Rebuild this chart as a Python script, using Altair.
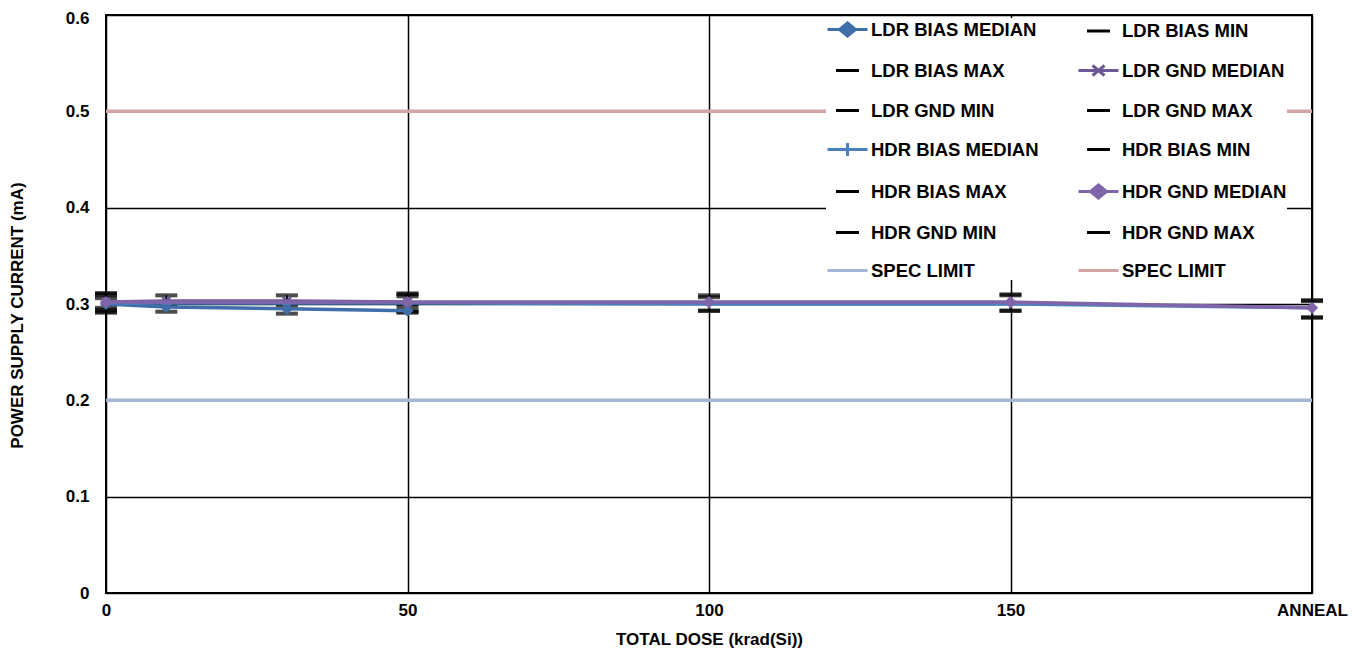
import altair as alt
import pandas as pd

# ---------------- data ----------------
X_LDR = [0, 10, 30, 50]
X_HDR = [0, 50, 100, 150, 200]

LDR_BIAS_MEDIAN = [0.300, 0.297, 0.295, 0.293]
LDR_BIAS_MIN = [0.291, 0.292, 0.290, 0.291]
LDR_BIAS_MAX = [0.306, 0.302, 0.298, 0.297]
LDR_GND_MEDIAN = [0.302, 0.303, 0.303, 0.302]
LDR_GND_MIN = [0.296, 0.300, 0.302, 0.300]
LDR_GND_MAX = [0.311, 0.309, 0.309, 0.311]

HDR_BIAS_MEDIAN = [0.301, 0.301, 0.300, 0.300, 0.296]
HDR_BIAS_MIN = [0.292, 0.292, 0.293, 0.293, 0.286]
HDR_BIAS_MAX = [0.309, 0.308, 0.307, 0.309, 0.303]
HDR_GND_MEDIAN = [0.302, 0.302, 0.302, 0.302, 0.296]
HDR_GND_MIN = [0.294, 0.293, 0.293, 0.293, 0.286]
HDR_GND_MAX = [0.311, 0.310, 0.309, 0.310, 0.304]

SPEC_LOW = 0.2
SPEC_HIGH = 0.5

X_TICKS = [0, 50, 100, 150, 200]
X_TICK_LABELS = ["0", "50", "100", "150", "ANNEAL"]
Y_TICKS = [0, 0.1, 0.2, 0.3, 0.4, 0.5, 0.6]

# legend entries, listed column by column (left column first)
LEGEND_NAMES = [
    "LDR BIAS MEDIAN", "LDR BIAS MAX", "LDR GND MIN", "HDR BIAS MEDIAN",
    "HDR BIAS MAX", "HDR GND MIN", "SPEC LIMIT",
    "LDR BIAS MIN", "LDR GND MEDIAN", "LDR GND MAX", "HDR BIAS MIN",
    "HDR GND MEDIAN", "HDR GND MAX", "SPEC LIMIT ",
]

# ---------------- styles ----------------
FONT = "Liberation Sans"
C_LDR_BIAS = "#3F6EA8"
C_LDR_GND = "#6C5898"
C_HDR_BIAS = "#4A7FC0"
C_HDR_GND = "#8064A8"
C_SPEC_LOW = "#A4B6D7"
C_SPEC_HIGH = "#D5A4A4"

LINE = "M-2,0L2,0"
DASH = "M-1.15,0L1.15,0"
LEG_DIAMOND = "M-2,0L2,0M0,-0.65L0.8,0L0,0.65L-0.8,0Z"
LEG_X = "M-2,0L2,0M-0.6,-0.5L0.6,0.5M-0.6,0.5L0.6,-0.5"
LEG_PLUS = "M-2,0L2,0M0,-0.65L0,0.65"

STYLE = {
    "LDR BIAS MEDIAN": (C_LDR_BIAS, LEG_DIAMOND),
    "LDR BIAS MIN": ("black", DASH),
    "LDR BIAS MAX": ("black", DASH),
    "LDR GND MEDIAN": (C_LDR_GND, LEG_X),
    "LDR GND MIN": ("black", DASH),
    "LDR GND MAX": ("black", DASH),
    "HDR BIAS MEDIAN": (C_HDR_BIAS, LEG_PLUS),
    "HDR BIAS MIN": ("black", DASH),
    "HDR BIAS MAX": ("black", DASH),
    "HDR GND MEDIAN": (C_HDR_GND, LEG_DIAMOND),
    "HDR GND MIN": ("black", DASH),
    "HDR GND MAX": ("black", DASH),
    "SPEC LIMIT": (C_SPEC_LOW, LINE),
    "SPEC LIMIT ": (C_SPEC_HIGH, LINE),
}
LEGEND_COLORS = [STYLE[n][0] for n in LEGEND_NAMES]
LEGEND_SHAPES = [STYLE[n][1] for n in LEGEND_NAMES]

# ---------------- tables ----------------
series_defs = [
    ("LDR BIAS", X_LDR, LDR_BIAS_MEDIAN, LDR_BIAS_MIN, LDR_BIAS_MAX, C_LDR_BIAS, "diamond"),
    ("LDR GND", X_LDR, LDR_GND_MEDIAN, LDR_GND_MIN, LDR_GND_MAX, C_LDR_GND, "M-1,-1L1,1M-1,1L1,-1"),
    ("HDR BIAS", X_HDR, HDR_BIAS_MEDIAN, HDR_BIAS_MIN, HDR_BIAS_MAX, C_HDR_BIAS, "M-1,0L1,0M0,-1L0,1"),
    ("HDR GND", X_HDR, HDR_GND_MEDIAN, HDR_GND_MIN, HDR_GND_MAX, C_HDR_GND, "diamond"),
]

rng_rows = []
for name, xs, med, mn, mx, col, shp in series_defs:
    for x, lo, hi in zip(xs, mn, mx):
        rng_rows.append({"x": x, "lo": lo, "hi": hi, "series": name})
rng_df = pd.DataFrame(rng_rows)

x_scale = alt.Scale(domain=[X_TICKS[0], X_TICKS[-1]], nice=False, zero=False)
y_scale = alt.Scale(domain=[Y_TICKS[0], Y_TICKS[-1]], nice=False)

label_expr = "''"
for v, t in zip(X_TICKS, X_TICK_LABELS):
    label_expr = f"datum.value == {v} ? '{t}' : ({label_expr})"

x_axis = alt.Axis(values=X_TICKS, labelExpr=label_expr, title="TOTAL DOSE (krad(Si))",
                  labelFlush=False, labelPadding=9, titlePadding=13)
y_axis = alt.Axis(
    values=Y_TICKS,
    labelExpr="datum.value == 0 ? '0' : format(datum.value, '.1f')",
    labelOffset={"condition": {"test": f"datum.value == {Y_TICKS[-1]}", "value": 3}, "value": 0},
    title="POWER SUPPLY CURRENT (mA)", labelPadding=17, titlePadding=39,
    titleY=300,
)

# spec limit lines
spec_df = pd.DataFrame({"x": [X_TICKS[0]] * 2, "x2": [X_TICKS[-1]] * 2,
                        "y": [SPEC_LOW, SPEC_HIGH], "which": ["low", "high"]})
spec = alt.Chart(spec_df).mark_rule(strokeWidth=3.5).encode(
    x=alt.X("x:Q", scale=x_scale, axis=x_axis),
    x2="x2:Q",
    y=alt.Y("y:Q", scale=y_scale, axis=y_axis),
    color=alt.Color("which:N", scale=alt.Scale(domain=["low", "high"], range=[C_SPEC_LOW, C_SPEC_HIGH]), legend=None),
)

# vertical error rules
err = alt.Chart(rng_df).mark_rule(color="black", strokeWidth=2).encode(
    x=alt.X("x:Q", scale=x_scale), y=alt.Y("lo:Q", scale=y_scale), y2="hi:Q")

# min / max dashes
tick_lo = alt.Chart(rng_df).mark_tick(orient="horizontal", size=22, thickness=4, color="black").encode(
    x=alt.X("x:Q", scale=x_scale), y=alt.Y("lo:Q", scale=y_scale))
tick_hi = alt.Chart(rng_df).mark_tick(orient="horizontal", size=22, thickness=4, color="black").encode(
    x=alt.X("x:Q", scale=x_scale), y=alt.Y("hi:Q", scale=y_scale))

layers = [spec, err, tick_lo, tick_hi]
for name, xs, med, mn, mx, col, shp in series_defs:
    d = pd.DataFrame({"x": xs, "y": med})
    base = alt.Chart(d).encode(x=alt.X("x:Q", scale=x_scale), y=alt.Y("y:Q", scale=y_scale))
    layers.append(base.mark_line(color=col, strokeWidth=3.5))
    if shp == "diamond":
        layers.append(base.mark_point(shape="diamond", filled=True, color=col, size=150, opacity=1))
    else:
        layers.append(base.mark_point(shape=shp, filled=False, color=col, size=70, strokeWidth=2.5, opacity=1))

# legend layer (no drawable points: positions are empty)
leg_df = pd.DataFrame({"series": LEGEND_NAMES, "x": [None] * len(LEGEND_NAMES), "y": [None] * len(LEGEND_NAMES)})
leg_df["x"] = leg_df["x"].astype(float)
leg_df["y"] = leg_df["y"].astype(float)

legend = alt.Legend(
    title=None, orient="none", legendX=720, legendY=3, columns=2,
    columnPadding=33, rowPadding=17, symbolSize=400, symbolStrokeWidth=3,
    symbolOffset=10, labelOffset=12, labelFont=FONT, labelFontSize=18.5,
    labelFontWeight="bold", labelColor="black", labelLimit=0,
    fillColor="white", padding=0, symbolOpacity=1,
)
leg_fill = alt.Scale(domain=LEGEND_NAMES, range=LEGEND_COLORS)
leg_layer = alt.Chart(leg_df).mark_point(filled=True).encode(
    x=alt.X("x:Q", scale=x_scale),
    y=alt.Y("y:Q", scale=y_scale),
    fill=alt.Fill("series:N", scale=leg_fill, legend=legend, sort=LEGEND_NAMES),
    stroke=alt.Stroke("series:N", scale=leg_fill, legend=legend, sort=LEGEND_NAMES),
    shape=alt.Shape("series:N", scale=alt.Scale(domain=LEGEND_NAMES, range=LEGEND_SHAPES), legend=legend, sort=LEGEND_NAMES),
)
layers.append(leg_layer)

chart = alt.layer(*layers).properties(
    width=1206, height=578,
    autosize=alt.AutoSizeParams(type="none"),
    padding={"left": 98, "top": 7, "right": 42, "bottom": 58},
).configure_view(
    stroke="black", strokeWidth=2,
).configure_axis(
    grid=True, gridColor="black", gridWidth=1.5, gridOpacity=1,
    ticks=False, domain=False,
    labelFont=FONT, labelFontSize=17, labelFontWeight="bold", labelColor="black",
    titleFont=FONT, titleFontSize=17, titleFontWeight="bold", titleColor="black",
)

chart.save("out.html", embed_options={"renderer": "svg", "actions": False})
